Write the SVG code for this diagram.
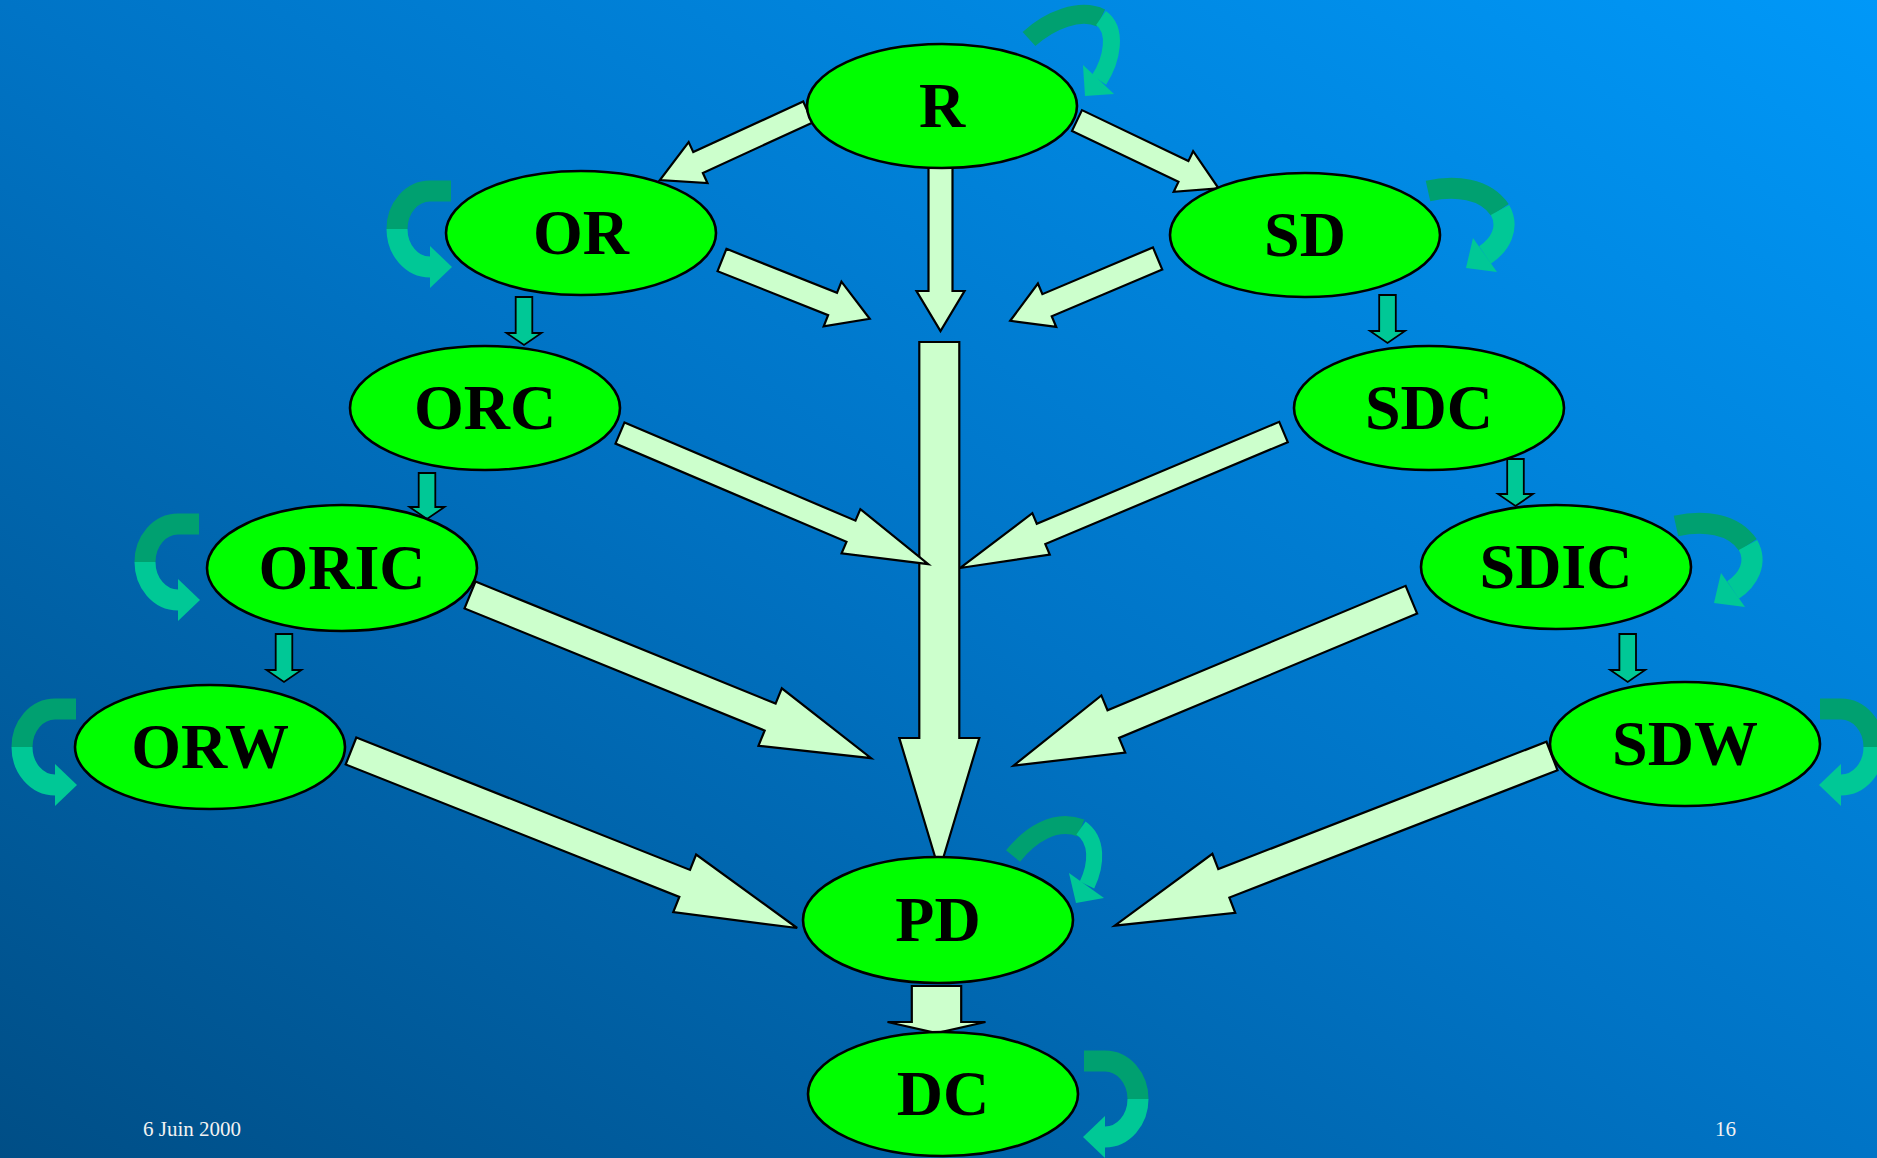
<svg xmlns="http://www.w3.org/2000/svg" xmlns:xlink="http://www.w3.org/1999/xlink" width="1877" height="1158" viewBox="0 0 1877 1158">
<defs>
<linearGradient id="bg" x1="1" y1="0" x2="0" y2="1">
<stop offset="0" stop-color="#0098F8"/>
<stop offset="0.5" stop-color="#0074C6"/>
<stop offset="1" stop-color="#004E86"/>
</linearGradient>
<g id="cloop">
<path class="ldark" d="M21,-38 H0 A33,38 0 0 0 -33,0"/>
<path class="llight" d="M-33,0 A33,38 0 0 0 0,38"/>
<polygon class="lhead" points="0,17 22,38 0,59"/>
</g>
</defs>
<style>
.big{fill:#CCFFCC;stroke:#000;stroke-width:2.2;stroke-linejoin:miter}
.small{fill:#00C896;stroke:#000;stroke-width:1.8}
.ldark{fill:none;stroke:#00A070;stroke-width:21}
.llight{fill:none;stroke:#00C896;stroke-width:21}
.lhead{fill:#00C896}
.node ellipse{fill:#00FF00;stroke:#000;stroke-width:2.6}
.node text{font-family:"Liberation Serif","Times New Roman",serif;font-weight:bold;font-size:64px;fill:#000;text-anchor:middle}
.foot{font-family:"Liberation Serif","Times New Roman",serif;font-size:21px;fill:#F2F2F2}
</style>
<rect x="0" y="0" width="1877" height="1158" fill="url(#bg)"/>

<g id="connectors">
<!-- R -> OR -->
<polygon class="big" transform="translate(808,112) rotate(155.3)" points="0,-11.5 121,-11.5 121,-22.5 163,0 121,22.5 121,11.5 0,11.5"/>
<!-- R -> SD -->
<polygon class="big" transform="translate(1077,120.5) rotate(25.6)" points="0,-11.5 118,-11.5 118,-22.5 157,0 118,22.5 118,11.5 0,11.5"/>
<!-- R -> center -->
<polygon class="big" transform="translate(940.5,160) rotate(90)" points="0,-12 131,-12 131,-24 171,0 131,24 131,12 0,12"/>
<!-- OR -> center -->
<polygon class="big" transform="translate(722,260) rotate(21.7)" points="0,-12 119,-12 119,-24 159,0 119,24 119,12 0,12"/>
<!-- SD -> center -->
<polygon class="big" transform="translate(1157.6,258.5) rotate(157.1)" points="0,-12 120,-12 120,-23.5 160,0 120,23.5 120,12 0,12"/>
<!-- big vertical to PD -->
<polygon class="big" transform="translate(939.3,342) rotate(90)" points="0,-20 396,-20 396,-40 529,0 396,40 396,20 0,20"/>
<!-- ORC -> center -->
<polygon class="big" transform="translate(620,433) rotate(23.04)" points="0,-11.5 251,-11.5 251,-24 335,0 251,24 251,11.5 0,11.5"/>
<!-- SDC -> center -->
<polygon class="big" transform="translate(1283.5,432) rotate(157.2)" points="0,-11 263,-11 263,-22.5 351,0 263,22.5 263,11 0,11"/>
<!-- ORIC -> PD -->
<polygon class="big" transform="translate(470,595) rotate(22.13)" points="0,-14.5 324,-14.5 324,-31 433,0 324,31 324,14.5 0,14.5"/>
<!-- ORW -> PD -->
<polygon class="big" transform="translate(351,751) rotate(21.64)" points="0,-14.5 359,-14.5 359,-31 480,0 359,31 359,14.5 0,14.5"/>
<!-- SDIC -> PD -->
<polygon class="big" transform="translate(1411.4,599.7) rotate(157.36)" points="0,-15 323,-15 323,-31 431,0 323,31 323,15 0,15"/>
<!-- SDW -> PD -->
<polygon class="big" transform="translate(1552,756) rotate(158.8)" points="0,-15.3 352,-15.3 352,-31.6 469,0 352,31.6 352,15.3 0,15.3"/>
<!-- PD -> DC -->
<polygon class="big" transform="translate(936.5,986) rotate(90)" points="0,-24.7 36,-24.7 36,-49 47,0 36,49 36,24.7 0,24.7"/>

<!-- small teal arrows -->
<polygon class="small" transform="translate(524,297) rotate(90)" points="0,-8.3 36,-8.3 36,-17.5 48,0 36,17.5 36,8.3 0,8.3"/>
<polygon class="small" transform="translate(427,473) rotate(90)" points="0,-8.3 34,-8.3 34,-17.5 46,0 34,17.5 34,8.3 0,8.3"/>
<polygon class="small" transform="translate(284,634) rotate(90)" points="0,-8.3 36,-8.3 36,-17.5 48,0 36,17.5 36,8.3 0,8.3"/>
<polygon class="small" transform="translate(1387.5,295) rotate(90)" points="0,-8.3 36,-8.3 36,-17.5 48,0 36,17.5 36,8.3 0,8.3"/>
<polygon class="small" transform="translate(1515.5,459) rotate(90)" points="0,-8.3 35,-8.3 35,-17.5 47,0 35,17.5 35,8.3 0,8.3"/>
<polygon class="small" transform="translate(1627.7,634) rotate(90)" points="0,-8.3 36,-8.3 36,-17.5 48,0 36,17.5 36,8.3 0,8.3"/>

<!-- self loops -->
<g id="loop-R">
<path class="ldark" style="stroke-width:19" d="M1029,39 C1050,20 1080,8 1101,18"/>
<path class="llight" style="stroke-width:17" d="M1101,18 C1118,30 1112,60 1099,80"/>
<polygon class="lhead" points="1083,65 1114,94 1085,96"/>
</g>
<g id="loop-PD">
<path class="ldark" style="stroke-width:18" d="M1013,856 C1030,835 1055,818 1081,828"/>
<path class="llight" style="stroke-width:16" d="M1081,828 C1098,840 1097,864 1087,885"/>
<polygon class="lhead" points="1069,873 1104,898 1076,903"/>
</g>
<g id="loop-SD">
<path class="ldark" d="M1428,191 C1455,185 1485,188 1500,210"/>
<path class="llight" d="M1500,210 C1510,228 1500,245 1485,255"/>
<polygon class="lhead" points="1497,272 1473,238 1466,268"/>
</g>
<g id="loop-SDIC">
<path class="ldark" d="M1676,526 C1703,520 1733,523 1748,545"/>
<path class="llight" d="M1748,545 C1758,563 1748,580 1733,590"/>
<polygon class="lhead" points="1745,607 1721,573 1714,603"/>
</g>
<use xlink:href="#cloop" href="#cloop" transform="translate(430,229)"/>
<use xlink:href="#cloop" href="#cloop" transform="translate(178,562)"/>
<use xlink:href="#cloop" href="#cloop" transform="translate(55,747)"/>
<use xlink:href="#cloop" href="#cloop" transform="translate(1841,747) scale(-1,1)"/>
<use xlink:href="#cloop" href="#cloop" transform="translate(1105,1099) scale(-1,1)"/>
</g>

<g id="node-R" class="node"><ellipse cx="942" cy="106" rx="135" ry="62"/><text x="942" y="127">R</text></g>
<g id="node-OR" class="node"><ellipse cx="581" cy="233" rx="135" ry="62"/><text x="581" y="254">OR</text></g>
<g id="node-SD" class="node"><ellipse cx="1305" cy="235" rx="135" ry="62"/><text x="1305" y="256">SD</text></g>
<g id="node-ORC" class="node"><ellipse cx="485" cy="408" rx="135" ry="62"/><text x="485" y="429">ORC</text></g>
<g id="node-SDC" class="node"><ellipse cx="1429" cy="408" rx="135" ry="62"/><text x="1429" y="429">SDC</text></g>
<g id="node-ORIC" class="node"><ellipse cx="342" cy="568" rx="135" ry="63"/><text x="342" y="589">ORIC</text></g>
<g id="node-SDIC" class="node"><ellipse cx="1556" cy="567" rx="135" ry="62"/><text x="1556" y="588">SDIC</text></g>
<g id="node-ORW" class="node"><ellipse cx="210" cy="747" rx="135" ry="62"/><text x="210" y="768">ORW</text></g>
<g id="node-SDW" class="node"><ellipse cx="1685" cy="744" rx="135" ry="62"/><text x="1685" y="765">SDW</text></g>
<g id="node-PD" class="node"><ellipse cx="938" cy="920" rx="135" ry="63"/><text x="938" y="941">PD</text></g>
<g id="node-DC" class="node"><ellipse cx="943" cy="1094" rx="135" ry="62"/><text x="943" y="1115">DC</text></g>

<text class="foot" x="143" y="1136">6 Juin 2000</text>
<text class="foot" x="1715" y="1136">16</text>
</svg>
